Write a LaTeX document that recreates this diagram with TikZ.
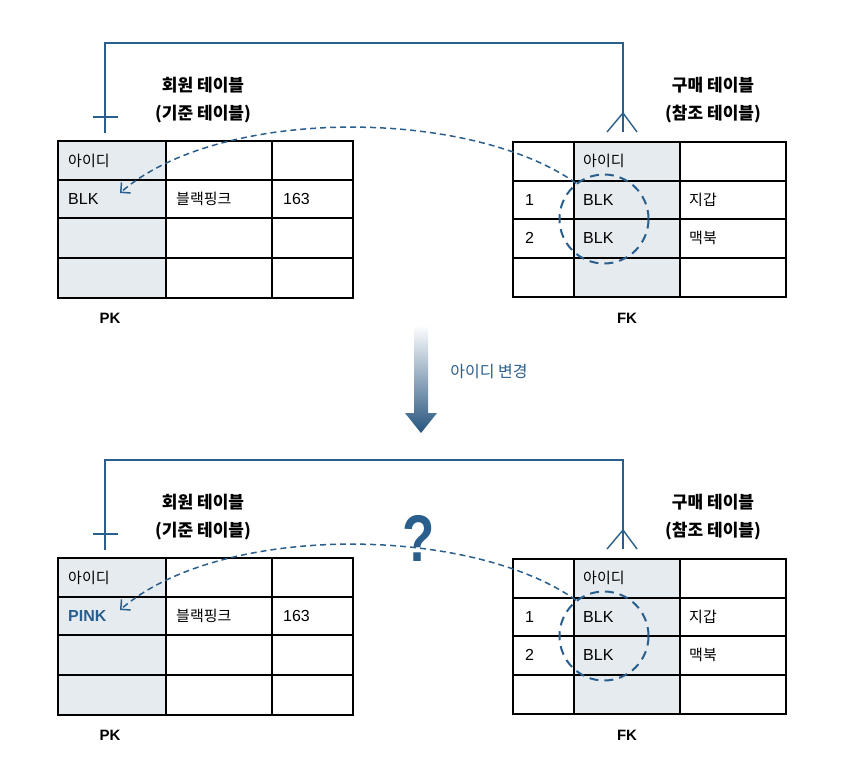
\documentclass[tikz,border=0pt]{standalone}
\usepackage{fontspec}
\setmainfont{Liberation Sans}
\newfontfamily\kr{Noto Sans CJK KR}
\usetikzlibrary{arrows.meta,positioning}
\definecolor{keyblue}{HTML}{2A5E8C}
\definecolor{keyfill}{HTML}{E6EBF0}
\tikzset{
	tabline/.style={line width=1.1pt},
	tabframe/.style={line width=1.8pt},
	cell/.style={anchor=west, inner sep=0pt, font=\fontsize{16}{19}\selectfont},
	krcell/.style={cell, font=\kr\fontsize{15}{18}\selectfont},
	title/.style={align=center, font=\kr\fontsize{17}{28}\selectfont\bfseries},
	key/.style={font=\fontsize{15}{18}\selectfont\bfseries},
	rel/.style={keyblue, line width=1.4pt},
	link/.style={keyblue, line width=1.5pt, dash pattern=on 6pt off 4pt,
		-{Straight Barb[length=7pt,width=14pt]}},
	ring/.style={draw=keyblue, circle, line width=2pt, minimum size=89pt,
		dash pattern=on 9pt off 6pt},
}
\begin{document}
\begin{tikzpicture}[x=1pt,y=-1pt]
\useasboundingbox (0,0) rectangle (848,764);

% before / after
\foreach \half/\yy/\pkval/\pkcol/\pkwt in {a/0/BLK/black/\mdseries, b/417/PINK/keyblue/\bfseries}{
\begin{scope}[shift={(0,\yy)}]
	% member table (PK)
	\fill[keyfill] (58,141) rectangle (166,298);
	\foreach \x in {166,272} \draw[tabline] (\x,141) -- (\x,298);
	\foreach \y in {180,218,258} \draw[tabline] (58,\y) -- (353,\y);
	\draw[tabframe] (58,141) rectangle (353,298);
	\node[krcell] (pkhead\half) at (68,161) {아이디};
	\node[cell, text=\pkcol, font=\fontsize{16}{19}\selectfont\pkwt] (pkval\half) at (68,199) {\pkval};
	\node[krcell] (name\half) at (176,199) {블랙핑크};
	\node[cell] (height\half) at (283,199) {163};
	\node[title] (pktitle\half) at (203,100) {회원 테이블\\(기준 테이블)};
	\node[key] (pk\half) at (110,318) {PK};

	% order table (FK)
	\fill[keyfill] (574,142) rectangle (680,297);
	\foreach \x in {574,680} \draw[tabline] (\x,142) -- (\x,297);
	\foreach \y in {181,219,258} \draw[tabline] (513,\y) -- (786,\y);
	\draw[tabframe] (513,142) rectangle (786,297);
	\node[krcell] (fkhead\half) at (583,161) {아이디};
	\node[cell] (no1\half) at (525,200) {1};
	\node[cell] (fkval1\half) at (583,200) {BLK};
	\node[krcell] (item1\half) at (689,200) {지갑};
	\node[cell] (no2\half) at (525,238) {2};
	\node[cell] (fkval2\half) at (583,238) {BLK};
	\node[krcell] (item2\half) at (689,238) {맥북};
	\node[title] (fktitle\half) at (713,100) {구매 테이블\\(참조 테이블)};
	\node[key] (fk\half) at (627,318) {FK};

	% relation one-to-many
	\coordinate (pkend\half) at (105,133);
	\coordinate (fkend\half) at (623,132);
	\draw[rel] (pkend\half) -- ++(0,-90) -| (fkend\half);
	\draw[rel] (93,117) -- (118,117);
	\draw[rel] (607,132) -- (623,113) -- (637,132);

	% reference
	\node[ring] (ring\half) at (604,219) {};
	\coordinate (tip\half) at (120,193);
	\draw[link] (ring\half.128) .. controls (470,108) and (220,106) .. (tip\half);
\end{scope}
}

% change arrow
\shade[top color=white, bottom color=keyblue!90!black]
	(414,325) -- (428,325) -- (428,413) -- (437,413) -- (421,433)
	-- (405,413) -- (414,413) -- cycle;
\node[text=keyblue, font=\kr\fontsize{16}{18}\selectfont] (change) at (489,372) {아이디 변경};
\node[text=keyblue, font=\fontsize{66}{66}\selectfont\bfseries] (ask) at (419,538) {\scalebox{0.8}[1]{?}};
\end{tikzpicture}
\end{document}
